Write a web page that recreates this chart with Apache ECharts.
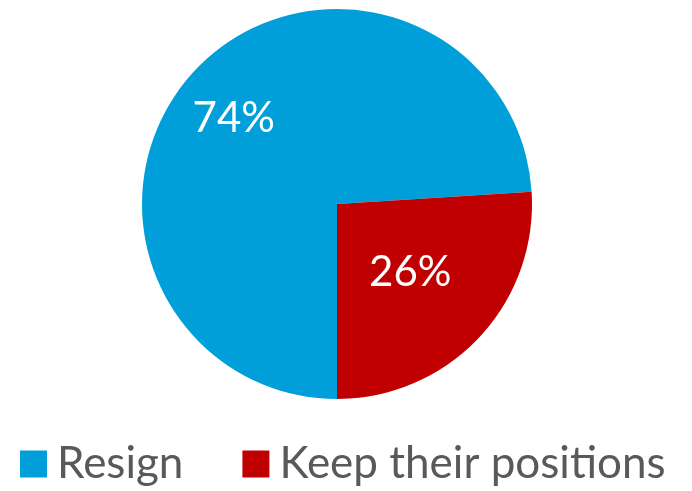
<!DOCTYPE html>
<html><head><meta charset="utf-8">
<script src="https://cdn.jsdelivr.net/npm/echarts@6/dist/echarts.min.js"></script>
<style>html,body{margin:0;padding:0;background:#fff}#c{width:692px;height:491px}</style>
</head><body><div id="c"></div>
<script>
const categories = ["Resign", "Keep their positions"];
const values = [74, 26];
const colors = ["#009FDA", "#C00000"];

const chart = echarts.init(document.getElementById('c'));
chart.setOption({
  animation: false,
  color: colors,
  legend: {
    data: categories,
    left: 15, top: 437,
    itemWidth: 27, itemHeight: 27, itemGap: 59,
    icon: 'rect',
    textStyle: { fontFamily: 'Lato', fontSize: 44, color: '#595959', padding: [0,0,0,5] }
  },
  series: [{
    type: 'pie',
    center: [337, 204],
    radius: 195,
    startAngle: 270,
    clockwise: true,
    label: {
      position: 'inside',
      formatter: p => p.value + '%',
      color: '#fff', fontFamily: 'Lato', fontSize: 42
    },
    labelLine: { show: false },
    labelLayout: p => p.dataIndex === 0 ? { dx: -30, dy: -17 } : {},
    emphasis: { disabled: true },
    data: categories.map((n, i) => ({ name: n, value: values[i] }))
  }]
});
</script></body></html>
